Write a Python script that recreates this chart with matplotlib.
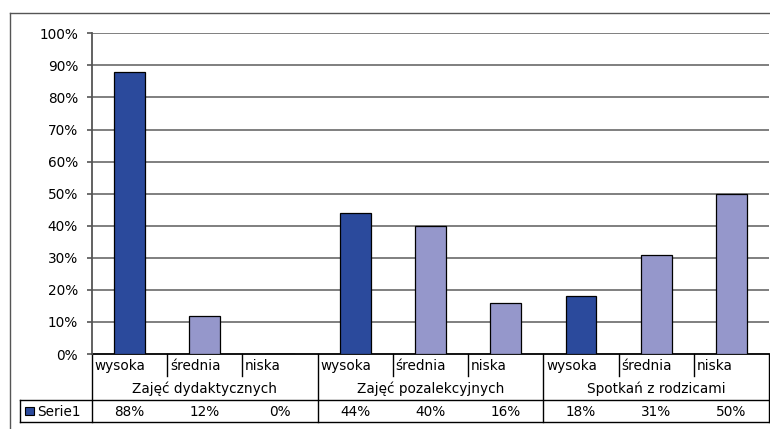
import numpy as np
import matplotlib
matplotlib.use("Agg")
import matplotlib.pyplot as plt
from matplotlib.patches import Rectangle
from matplotlib.lines import Line2D

plt.rcParams['font.family'] = ['DejaVu Sans']
fs = 9.8

# data
groups = ["Zajęć dydaktycznych", "Zajęć pozalekcyjnych", "Spotkań z rodzicami"]
levels = ["wysoka", "średnia", "niska"]
values = [0.88, 0.12, 0.00, 0.44, 0.40, 0.16, 0.18, 0.31, 0.50]
series_name = "Serie1"

dark = "#2B4A9C"
light = "#9597CB"
grid_c = "#7F7F7F"

W, H = 770, 429
fig = plt.figure(figsize=(W / 100, H / 100), dpi=100)

# plot area in pixels -> figure fractions
left_px, right_px, top_px, bot_px = 92, 769, 33.3, 354
ax = fig.add_axes([left_px / W, 1 - bot_px / H,
                   (right_px - left_px) / W, (bot_px - top_px) / H])

n = len(values)
x = np.arange(n)
colors = [dark if i % 3 == 0 else light for i in range(n)]
ax.bar(x, values, width=0.41, color=colors, edgecolor="black", linewidth=0.9, zorder=3)

ax.set_xlim(-0.5, n - 0.5)
ax.set_ylim(0, 1.0)
yt = np.arange(0, 1.01, 0.1)
ax.set_yticks(yt)
ax.set_yticklabels([f"{int(round(v * 100))}%" for v in yt], fontsize=fs)
ax.tick_params(axis="y", length=3.6, width=1.2, color="#555555", pad=6.4)
ax.set_xticks([])
for v in yt[1:]:
    ax.axhline(v, color=grid_c, linewidth=1.4, zorder=1)

for s in ["top", "right", "bottom"]:
    ax.spines[s].set_visible(False)
ax.spines["left"].set_color("#555555")
ax.spines["left"].set_linewidth(1.3)

# data table under the axis (x in data units, y in axes fraction)
tr = ax.get_xaxis_transform()
px = 1.0 / (bot_px - top_px)   # one pixel in axes fraction
y_cat = -22 * px
y_grp = -46 * px
y_bot = -68 * px
cell = (right_px - left_px) / n
x_leg = -0.5 - (left_px - 20) / cell

def hline(y, x0, x1, c="black", lw=1.0):
    ax.add_line(Line2D([x0, x1], [y, y], transform=tr, color=c, lw=lw, clip_on=False))

def vline(xv, y0, y1, c="black", lw=1.0):
    ax.add_line(Line2D([xv, xv], [y0, y1], transform=tr, color=c, lw=lw, clip_on=False))

hline(0, -0.5, n - 0.5, lw=1.3)
hline(y_grp, x_leg, n - 0.5)
hline(y_bot, x_leg, n - 0.5)
vline(x_leg, y_grp, y_bot)
for i in range(n + 1):
    xe = i - 0.5
    if i % 3 == 0:
        vline(xe, 0, y_bot)
    else:
        vline(xe, 0, y_cat)

for i, v in enumerate(values):
    ax.text(i - 0.465, y_cat / 2 - 1 * px, levels[i % 3], transform=tr, ha="left",
            va="center", fontsize=fs)
    ax.text(i, (y_grp + y_bot) / 2 - 1 * px, f"{v:.0%}", transform=tr, ha="center",
            va="center", fontsize=fs)
for g, name in enumerate(groups):
    ax.text(g * 3 + 1, (y_cat + y_grp) / 2 - 1 * px, name, transform=tr, ha="center",
            va="center", fontsize=fs)

# legend key inside the table
ax.add_patch(Rectangle((x_leg + 5 / cell, (y_grp + y_bot) / 2 - 4 * px), 9 / cell, 8 * px,
                       transform=tr, facecolor=dark, edgecolor="black", lw=0.8,
                       clip_on=False))
ax.text(x_leg + 17 / cell, (y_grp + y_bot) / 2 - 1 * px, series_name, transform=tr,
        ha="left", va="center", fontsize=fs)

# chart border
fig.add_artist(Line2D([10 / W, 10 / W], [0, 1 - 12.5 / H], color="#555555", lw=1.0))
fig.add_artist(Line2D([10 / W, 1], [1 - 12.5 / H, 1 - 12.5 / H], color="#555555", lw=1.0))

fig.savefig("out.png", dpi=100)
